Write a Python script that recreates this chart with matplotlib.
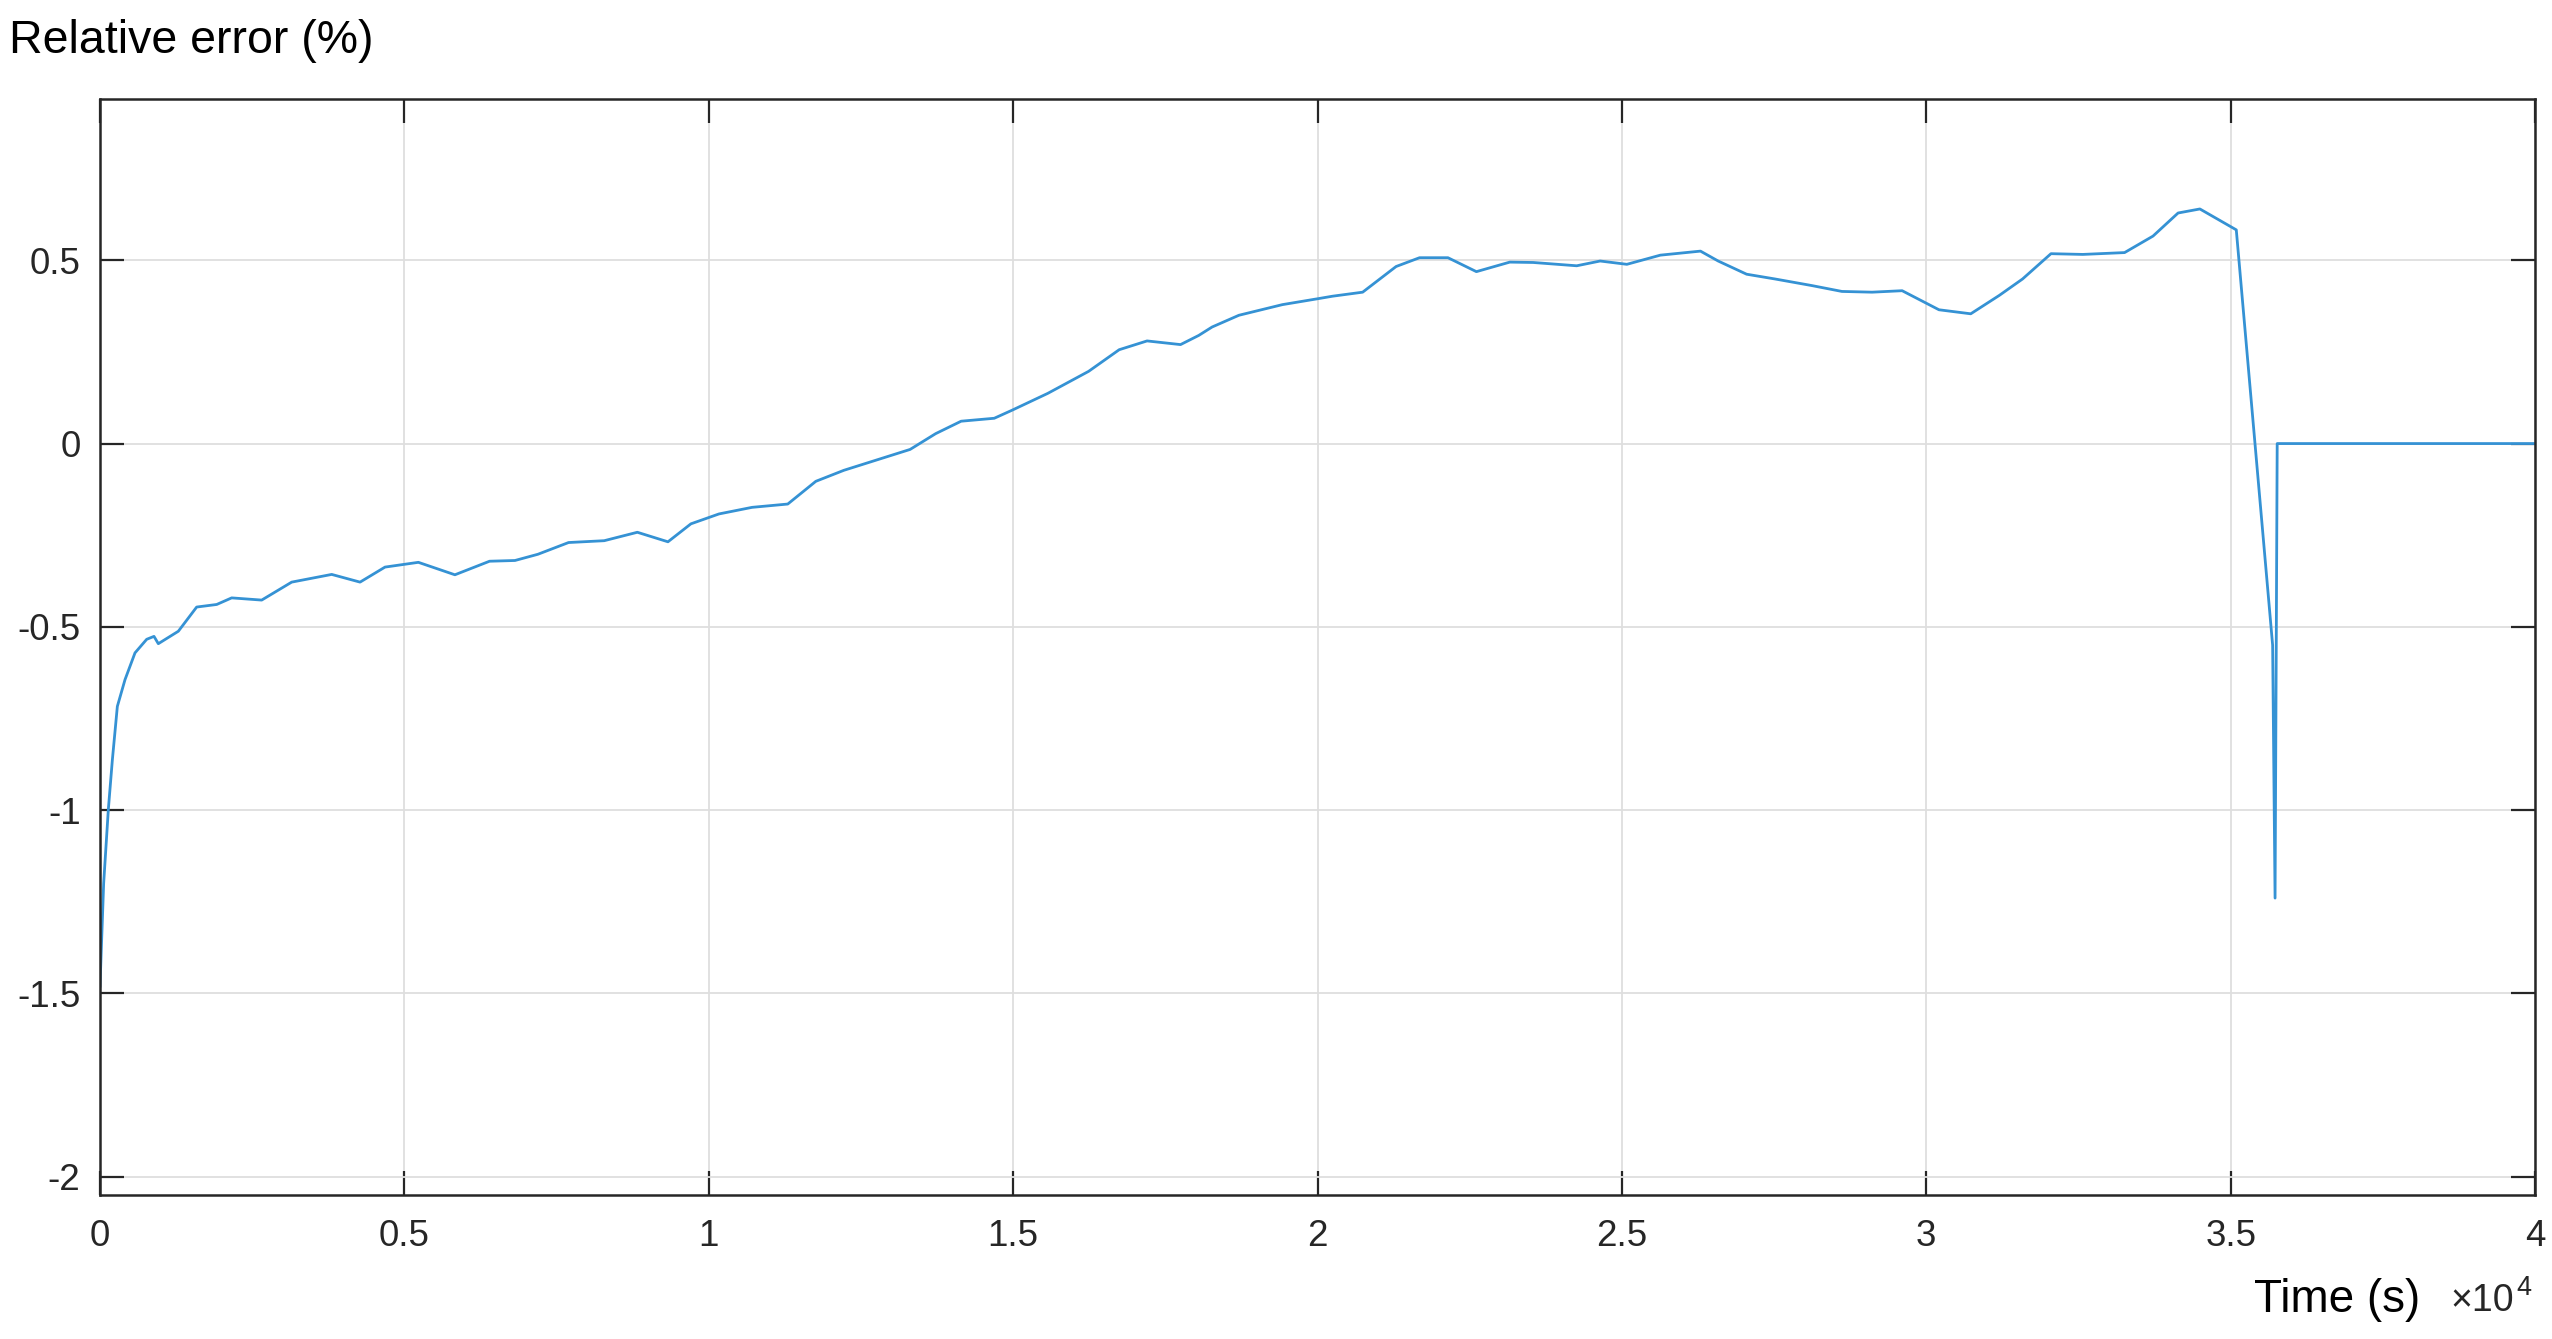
import matplotlib
matplotlib.use("Agg")
import matplotlib.pyplot as plt
from matplotlib.ticker import FuncFormatter

# Data (time in seconds, relative error in %)
time_s = [0, 60, 137, 203, 285, 411, 575, 767, 887, 958, 1287, 1588, 1917, 2163,
          2656, 3149, 3806, 4272, 4682, 5230, 5830, 6399, 6817, 7194, 7697, 8283,
          8827, 9330, 9707, 10168, 10712, 11298, 11759, 12219, 13308, 13727, 14146,
          14690, 14983, 15570, 16240, 16742, 17200, 17750, 18049, 18269, 18709,
          19423, 20000, 20247, 20742, 21291, 21676, 22143, 22610, 23159, 23544,
          24258, 24643, 25082, 25632, 26291, 26582, 27049, 27516, 28121, 28615,
          29110, 29604, 30209, 30731, 31198, 31582, 32049, 32571, 33258, 33725,
          34137, 34495, 35093, 35690, 35730, 35765, 40000]
rel_err = [-1.48, -1.2, -0.998, -0.863, -0.717, -0.644, -0.571, -0.534, -0.526,
           -0.546, -0.512, -0.446, -0.439, -0.421, -0.427, -0.378, -0.357, -0.378,
           -0.337, -0.324, -0.358, -0.321, -0.319, -0.302, -0.270, -0.265, -0.242,
           -0.268, -0.219, -0.192, -0.174, -0.165, -0.103, -0.073, -0.016, 0.027,
           0.061, 0.069, 0.091, 0.137, 0.197, 0.256, 0.280, 0.270, 0.295, 0.318,
           0.350, 0.379, 0.395, 0.402, 0.413, 0.483, 0.507, 0.507, 0.469, 0.495,
           0.494, 0.485, 0.498, 0.489, 0.514, 0.525, 0.498, 0.462, 0.449, 0.431,
           0.415, 0.413, 0.417, 0.365, 0.354, 0.404, 0.449, 0.518, 0.516, 0.521,
           0.566, 0.629, 0.640, 0.583, -0.55, -1.24, 0.0, 0.0]

x_ticks = [0, 5000, 10000, 15000, 20000, 25000, 30000, 35000, 40000]
y_ticks = [-2, -1.5, -1, -0.5, 0, 0.5]

plt.rcParams['font.family'] = ['Liberation Sans', 'DejaVu Sans']
plt.rcParams['axes.unicode_minus'] = False
dark = '#262626'

fig = plt.figure(figsize=(25.52, 13.39), dpi=100)
ax = fig.add_axes([100 / 2552, 1 - 1195 / 1339, 2435 / 2552, 1096 / 1339])

ax.plot(time_s, rel_err, color='#3592d4', lw=2.0, solid_joinstyle='round')

ax.set_xlim(0, 40000)
ax.set_ylim(-2.05, 0.94)
ax.set_xticks(x_ticks)
ax.set_yticks(y_ticks)
ax.xaxis.set_major_formatter(FuncFormatter(lambda v, p: f'{v / 1e4:g}'))
ax.yaxis.set_major_formatter(FuncFormatter(lambda v, p: f'{v:g}'))

ax.grid(True, color='#dedede', lw=1.3)
ax.set_axisbelow(True)
for s in ax.spines.values():
    s.set_color(dark)
    s.set_linewidth(1.8)
ax.tick_params(direction='in', length=17, width=1.6, color=dark,
               labelcolor=dark, labelsize=26.5, top=True, right=True)
ax.tick_params(axis='x', pad=17)
ax.tick_params(axis='y', pad=14)

fig.text(9 / 2552, 1 - 53 / 1339, 'Relative error (%)', fontsize=33.5,
         color='black', ha='left', va='baseline')
fig.text(2420 / 2552, 1 - 1312 / 1339, 'Time (s)', fontsize=33,
         color='black', ha='right', va='baseline')
fig.text(2514 / 2552, 1 - 1311 / 1339, '\u00d710', fontsize=27,
         color=dark, ha='right', va='baseline')
fig.text(2516 / 2552, 1 - 1295 / 1339, '4', fontsize=19.5,
         color=dark, ha='left', va='baseline')

fig.savefig('out.png', dpi=100, facecolor='white')
